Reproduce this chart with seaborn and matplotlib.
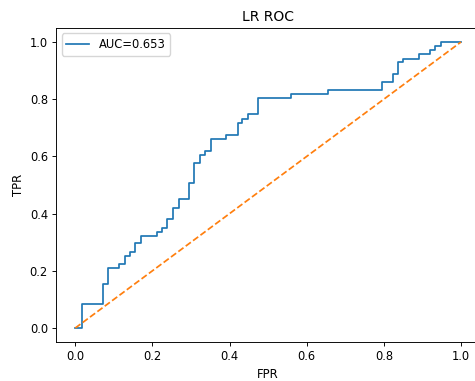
import matplotlib
matplotlib.use("Agg")
import matplotlib.pyplot as plt
import seaborn as sns
import pandas as pd

fpr = [0.0, 0.018, 0.018, 0.072, 0.072, 0.086, 0.086, 0.113, 0.113, 0.128, 0.128,
       0.141, 0.141, 0.156, 0.156, 0.170, 0.170, 0.212, 0.212, 0.225, 0.225,
       0.239, 0.239, 0.254, 0.254, 0.268, 0.268, 0.295, 0.295, 0.308, 0.308,
       0.323, 0.323, 0.336, 0.336, 0.351, 0.351, 0.392, 0.392, 0.421, 0.421,
       0.433, 0.433, 0.447, 0.447, 0.474, 0.474, 0.558, 0.558, 0.656, 0.656,
       0.795, 0.795, 0.823, 0.823, 0.836, 0.836, 0.850, 0.850, 0.892, 0.892,
       0.919, 0.919, 0.933, 0.933, 0.948, 0.948, 1.0]
tpr = [0.0, 0.0, 0.083, 0.083, 0.153, 0.153, 0.209, 0.209, 0.225, 0.225, 0.253,
       0.253, 0.267, 0.267, 0.296, 0.296, 0.323, 0.323, 0.337, 0.337, 0.351,
       0.351, 0.380, 0.380, 0.421, 0.421, 0.450, 0.450, 0.506, 0.506, 0.576,
       0.576, 0.604, 0.604, 0.619, 0.619, 0.661, 0.661, 0.675, 0.675, 0.716,
       0.716, 0.731, 0.731, 0.747, 0.747, 0.803, 0.803, 0.817, 0.817, 0.831,
       0.831, 0.860, 0.860, 0.887, 0.887, 0.929, 0.929, 0.941, 0.941, 0.958,
       0.958, 0.972, 0.972, 0.987, 0.987, 1.0, 1.0]
diag = [0.0, 1.0]
auc_label = "AUC=0.653"

s = 0.83
plt.rcParams.update({
    "font.size": 10 * s,
    "axes.titlesize": 12 * s,
    "axes.labelsize": 10 * s,
    "xtick.labelsize": 10 * s,
    "ytick.labelsize": 10 * s,
    "legend.fontsize": 10 * s,
    "lines.linewidth": 1.5 * s,
    "axes.linewidth": 0.8 * s,
    "xtick.major.size": 3.5 * s,
    "ytick.major.size": 3.5 * s,
    "xtick.major.width": 0.8 * s,
    "ytick.major.width": 0.8 * s,
    "xtick.major.pad": 3.5 * s,
    "ytick.major.pad": 3.5 * s,
    "axes.titlepad": 6 * s,
    "axes.labelpad": 4 * s,
})

fig = plt.figure(figsize=(4.75, 3.81), dpi=100)
ax = fig.add_axes([0.1179, 0.1016, 0.8932, 0.8257])

df = pd.DataFrame({"FPR": fpr, "TPR": tpr})
sns.lineplot(data=df, x="FPR", y="TPR", sort=False, estimator=None,
             color="tab:blue", label=auc_label, ax=ax)
ax.plot(diag, diag, "--", color="tab:orange")
ax.set_xlim(-0.05, 1.05)
ax.set_ylim(-0.05, 1.05)
ax.set_title("LR ROC")
ax.set_xlabel("FPR")
ax.set_ylabel("TPR")
ax.legend(loc="upper left")
fig.savefig("out.png", dpi=100)
